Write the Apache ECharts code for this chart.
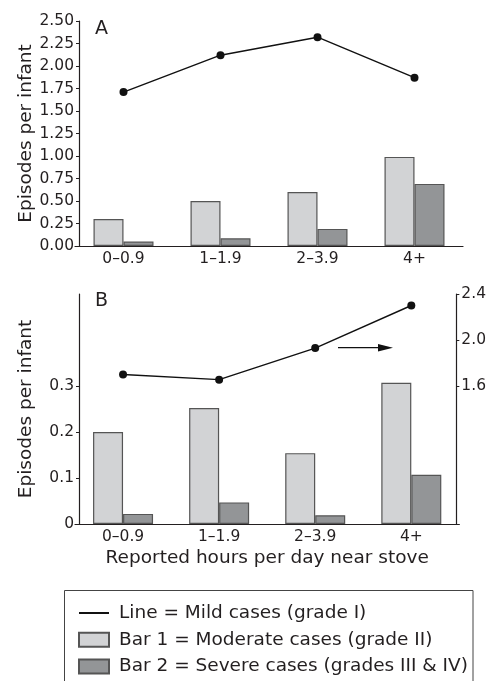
<!DOCTYPE html>
<html>
<head>
<meta charset="utf-8">
<script src="https://cdn.jsdelivr.net/npm/echarts@6/dist/echarts.min.js"></script>
<style>html,body{margin:0;padding:0;background:#fff}#c{width:489px;height:681px}</style>
</head>
<body>
<div id="c"></div>
<script>
var categories = ['0\u20130.9', '1\u20131.9', '2\u20133.9', '4+'];
var aMild = [1.71, 2.12, 2.32, 1.87];
var aModerate = [0.30, 0.50, 0.60, 0.99];
var aSevere = [0.05, 0.085, 0.19, 0.69];
var bMild = [1.70, 1.655, 1.93, 2.30];
var bModerate = [0.20, 0.252, 0.154, 0.307];
var bSevere = [0.022, 0.047, 0.019, 0.107];
var aTicks = [0, 0.25, 0.5, 0.75, 1, 1.25, 1.5, 1.75, 2, 2.25, 2.5];
var bLeftTicks = [0, 0.1, 0.2, 0.3];
var bRightTicks = [1.6, 2.0, 2.4];
var lineName = 'Line = Mild cases (grade I)';
var bar1Name = 'Bar 1 = Moderate cases (grade II)';
var bar2Name = 'Bar 2 = Severe cases (grades III & IV)';
var yTitle = 'Episodes per infant';
var xTitle = 'Reported hours per day near stove';

var FONT = 'DejaVu Sans';
var INK = '#231f20';
var LIGHT = '#d2d3d5';
var DARK = '#939597';
var EDGE = '#555555';

var chart = echarts.init(document.getElementById('c'), null, {renderer: 'canvas'});

function xAxisCfg(gi, withName) {
  var c = {
    type: 'category', gridIndex: gi, data: categories, boundaryGap: true,
    axisLine: {lineStyle: {color: INK, width: 1.2}},
    axisTick: {show: false},
    axisLabel: {color: INK, fontFamily: FONT, fontSize: 15.5, margin: 5}
  };
  if (withName) {
    c.name = xTitle; c.nameLocation = 'middle'; c.nameGap = 25; c.nameMoveOverlap = false;
    c.nameTextStyle = {color: INK, fontFamily: FONT, fontSize: 18.5};
  }
  return c;
}

var option = {
  animation: false,
  backgroundColor: '#fff',
  grid: [
    {left: 75, width: 388, top: 21, height: 225},
    {left: 75, width: 388, top: 294, height: 230}
  ],
  xAxis: [xAxisCfg(0, false), xAxisCfg(1, true)],
  yAxis: [
    {
      type: 'value', gridIndex: 0, min: 0, max: 2.5, interval: 0.25, offset: -4,
      splitLine: {show: false},
      axisLine: {show: true, lineStyle: {color: INK, width: 1.2}},
      axisTick: {show: true, length: 3, lineStyle: {color: INK}, customValues: aTicks},
      axisLabel: {color: INK, fontFamily: FONT, fontSize: 15.5, margin: 5, customValues: aTicks,
        formatter: function (v) { return v.toFixed(2); }},
      name: yTitle, nameLocation: 'middle', nameGap: 43.5, nameMoveOverlap: false,
      nameTextStyle: {color: INK, fontFamily: FONT, fontSize: 18.5}
    },
    {
      type: 'value', gridIndex: 1, min: 0, max: 0.5, interval: 0.1, offset: -4,
      splitLine: {show: false},
      axisLine: {show: true, lineStyle: {color: INK, width: 1.2}},
      axisTick: {show: true, length: 3, lineStyle: {color: INK}, customValues: bLeftTicks},
      axisLabel: {color: INK, fontFamily: FONT, fontSize: 15.5, margin: 5, customValues: bLeftTicks,
        formatter: function (v) { return v === 0 ? '0' : v.toFixed(1); }},
      name: yTitle, nameLocation: 'middle', nameGap: 43.5, nameMoveOverlap: false,
      nameTextStyle: {color: INK, fontFamily: FONT, fontSize: 18.5}
    },
    {
      type: 'value', gridIndex: 1, position: 'right', min: 0.4, max: 2.4, interval: 0.4, offset: -3,
      splitLine: {show: false},
      axisLine: {show: true, lineStyle: {color: INK, width: 1.2}},
      axisTick: {show: true, length: 3, lineStyle: {color: INK}, customValues: bRightTicks},
      axisLabel: {color: INK, fontFamily: FONT, fontSize: 15.5, margin: 5, customValues: bRightTicks,
        formatter: function (v) { return v.toFixed(1); }}
    }
  ],
  legend: {
    orient: 'vertical', left: 78, top: 603, padding: 0,
    itemWidth: 30, itemHeight: 14, itemGap: 6.7, selectedMode: false,
    textStyle: {color: INK, fontFamily: FONT, fontSize: 18.5, lineHeight: 20, padding: [0, 0, 0, 5]},
    data: [
      {name: lineName, itemStyle: {opacity: 0}},
      {name: bar1Name, icon: 'rect'},
      {name: bar2Name, icon: 'rect'}
    ]
  },
  series: [
    {name: bar1Name, type: 'bar', xAxisIndex: 0, yAxisIndex: 0, data: aModerate, barWidth: 30, barGap: '0%',
      itemStyle: {color: LIGHT, borderColor: EDGE, borderWidth: 1.2}},
    {name: bar2Name, type: 'bar', xAxisIndex: 0, yAxisIndex: 0, data: aSevere, barWidth: 30, barGap: '0%',
      itemStyle: {color: DARK, borderColor: EDGE, borderWidth: 1.2}},
    {name: lineName, type: 'line', xAxisIndex: 0, yAxisIndex: 0, data: aMild, symbol: 'circle', symbolSize: 8,
      lineStyle: {color: '#111', width: 1.4}, itemStyle: {color: '#111'}, z: 5},
    {name: bar1Name, type: 'bar', xAxisIndex: 1, yAxisIndex: 1, data: bModerate, barWidth: 30, barGap: '0%',
      itemStyle: {color: LIGHT, borderColor: EDGE, borderWidth: 1.2}},
    {name: bar2Name, type: 'bar', xAxisIndex: 1, yAxisIndex: 1, data: bSevere, barWidth: 30, barGap: '0%',
      itemStyle: {color: DARK, borderColor: EDGE, borderWidth: 1.2}},
    {name: lineName, type: 'line', xAxisIndex: 1, yAxisIndex: 2, data: bMild, symbol: 'circle', symbolSize: 8,
      lineStyle: {color: '#111', width: 1.4}, itemStyle: {color: '#111'}, z: 5}
  ],
  graphic: [
    {type: 'text', left: 95, top: 19.5, style: {text: 'A', fill: INK, font: '19px "DejaVu Sans"'}},
    {type: 'text', left: 95, top: 292, style: {text: 'B', fill: INK, font: '19px "DejaVu Sans"'}},
    {type: 'line', shape: {x1: 338, y1: 347.7, x2: 382, y2: 347.7}, style: {stroke: '#111', lineWidth: 1.2}},
    {type: 'polygon', shape: {points: [[378, 344], [393, 347.7], [378, 351.4]]}, style: {fill: '#111'}},
    {type: 'rect', shape: {x: 64.5, y: 590.5, width: 408.5, height: 120}, style: {fill: 'none', stroke: '#444', lineWidth: 1}}
  ]
};
chart.setOption(option);
</script>
</body>
</html>
